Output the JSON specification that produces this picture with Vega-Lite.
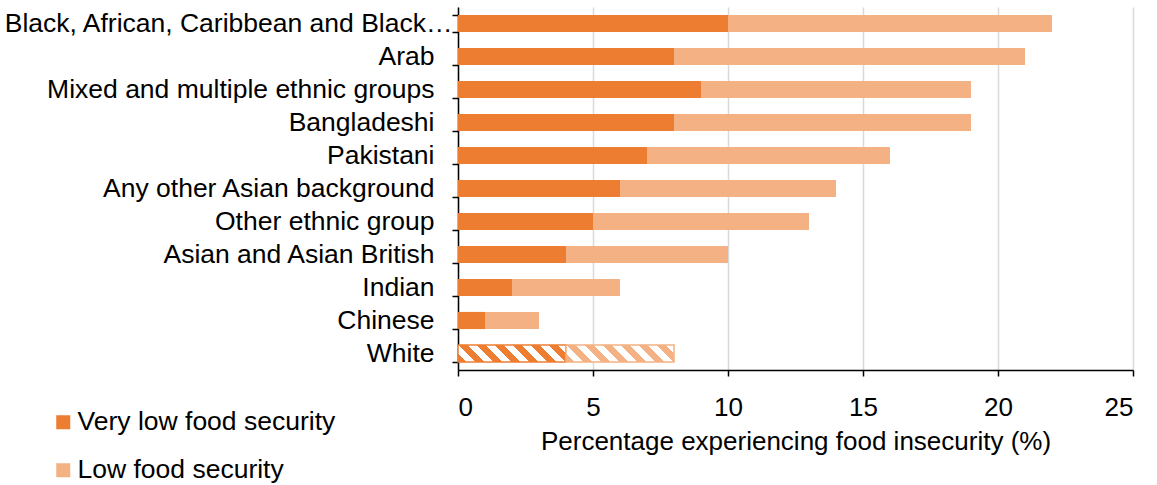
{
  "$schema": "https://vega.github.io/schema/vega-lite/v6.json",
  "width": 675,
  "height": 363,
  "autosize": "none",
  "padding": {"left": 458, "top": 7, "right": 24, "bottom": 115},
  "background": "white",
  "config": {
    "font": "Liberation Sans",
    "view": {"stroke": null},
    "axis": {"labelFont": "Liberation Sans", "titleFont": "Liberation Sans", "labelColor": "#000", "titleColor": "#000"}
  },
  "data": {
    "values": [
      {"group": "Black, African, Caribbean and Black British", "type": "Very low food security", "value": 10},
      {"group": "Black, African, Caribbean and Black British", "type": "Low food security", "value": 12},
      {"group": "Arab", "type": "Very low food security", "value": 8},
      {"group": "Arab", "type": "Low food security", "value": 13},
      {"group": "Mixed and multiple ethnic groups", "type": "Very low food security", "value": 9},
      {"group": "Mixed and multiple ethnic groups", "type": "Low food security", "value": 10},
      {"group": "Bangladeshi", "type": "Very low food security", "value": 8},
      {"group": "Bangladeshi", "type": "Low food security", "value": 11},
      {"group": "Pakistani", "type": "Very low food security", "value": 7},
      {"group": "Pakistani", "type": "Low food security", "value": 9},
      {"group": "Any other Asian background", "type": "Very low food security", "value": 6},
      {"group": "Any other Asian background", "type": "Low food security", "value": 8},
      {"group": "Other ethnic group", "type": "Very low food security", "value": 5},
      {"group": "Other ethnic group", "type": "Low food security", "value": 8},
      {"group": "Asian and Asian British", "type": "Very low food security", "value": 4},
      {"group": "Asian and Asian British", "type": "Low food security", "value": 6},
      {"group": "Indian", "type": "Very low food security", "value": 2},
      {"group": "Indian", "type": "Low food security", "value": 4},
      {"group": "Chinese", "type": "Very low food security", "value": 1},
      {"group": "Chinese", "type": "Low food security", "value": 2},
      {"group": "White", "type": "Very low food security", "value": 4},
      {"group": "White", "type": "Low food security", "value": 4}
    ]
  },
  "transform": [
    {"calculate": "datum.type === 'Very low food security' ? 0 : 1", "as": "stackOrder"}
  ],
  "encoding": {
    "y": {
      "field": "group",
      "type": "nominal",
      "sort": null,
      "scale": {"paddingInner": 0.48, "paddingOuter": 0.24},
      "axis": {
        "title": null,
        "tickBand": "extent",
        "labelFontSize": 26.5,
        "labelLimit": 450,
        "labelPadding": {
          "condition": {"test": "datum.value === 'Black, African, Caribbean and Black British'", "value": 0},
          "value": 18
        },
        "tickSize": 6,
        "tickColor": "#000",
        "tickWidth": 1.5,
        "domainColor": "#000",
        "domainWidth": 1.5,
        "grid": false
      }
    },
    "x": {
      "field": "value",
      "type": "quantitative",
      "stack": "zero",
      "scale": {"domain": [0, 25], "nice": false},
      "axis": {
        "title": "Percentage experiencing food insecurity (%)",
        "values": [0, 5, 10, 15, 20, 25],
        "labelFontSize": 26,
        "titleFontSize": 26,
        "titleFontWeight": "normal",
        "labelPadding": 18,
        "titlePadding": 8,
        "tickSize": 6,
        "tickColor": "#000",
        "tickWidth": 1.5,
        "domainColor": "#000",
        "domainWidth": 1.5,
        "grid": true,
        "gridColor": "#d9d9d9",
        "gridWidth": 1.5
      }
    },
    "order": {"field": "stackOrder", "type": "quantitative"}
  },
  "layer": [
    {
      "transform": [{"filter": "datum.group !== 'White'"}],
      "mark": {"type": "bar"},
      "encoding": {
        "color": {
          "field": "type",
          "type": "nominal",
          "scale": {"domain": ["Very low food security", "Low food security"], "range": ["#ED7D31", "#F4B183"]},
          "legend": {
            "title": null,
            "orient": "none",
            "legendX": -408,
            "legendY": 402,
            "symbolType": "square",
            "symbolSize": 196,
            "symbolStrokeWidth": 0,
            "labelFontSize": 26.5,
            "labelFont": "Liberation Sans",
            "labelColor": "#000",
            "labelLimit": 400,
            "rowPadding": 21,
            "labelOffset": 1
          }
        }
      }
    },
    {
      "transform": [{"filter": "datum.group === 'White'"}],
      "mark": {"type": "bar", "strokeWidth": 1.5},
      "encoding": {
        "fill": {
          "condition": {
            "test": "datum.type === 'Very low food security'",
            "value": {
              "gradient": "linear", "x1": 0, "y1": 1, "x2": 1.13, "y2": 0.82,
              "stops": [
                {"offset": 0, "color": "#ED7D31"}, {"offset": 0.0714, "color": "#ED7D31"},
                {"offset": 0.0714, "color": "#ffffff"}, {"offset": 0.1428, "color": "#ffffff"},
                {"offset": 0.1428, "color": "#ED7D31"}, {"offset": 0.2143, "color": "#ED7D31"},
                {"offset": 0.2143, "color": "#ffffff"}, {"offset": 0.2857, "color": "#ffffff"},
                {"offset": 0.2857, "color": "#ED7D31"}, {"offset": 0.3571, "color": "#ED7D31"},
                {"offset": 0.3571, "color": "#ffffff"}, {"offset": 0.4286, "color": "#ffffff"},
                {"offset": 0.4286, "color": "#ED7D31"}, {"offset": 0.5, "color": "#ED7D31"},
                {"offset": 0.5, "color": "#ffffff"}, {"offset": 0.5714, "color": "#ffffff"},
                {"offset": 0.5714, "color": "#ED7D31"}, {"offset": 0.6428, "color": "#ED7D31"},
                {"offset": 0.6428, "color": "#ffffff"}, {"offset": 0.7143, "color": "#ffffff"},
                {"offset": 0.7143, "color": "#ED7D31"}, {"offset": 0.7857, "color": "#ED7D31"},
                {"offset": 0.7857, "color": "#ffffff"}, {"offset": 0.8571, "color": "#ffffff"},
                {"offset": 0.8571, "color": "#ED7D31"}, {"offset": 0.9286, "color": "#ED7D31"},
                {"offset": 0.9286, "color": "#ffffff"}, {"offset": 1, "color": "#ffffff"}
              ]
            }
          },
          "value": {
            "gradient": "linear", "x1": 0, "y1": 1, "x2": 1.13, "y2": 0.82,
            "stops": [
              {"offset": 0, "color": "#F4B183"}, {"offset": 0.0714, "color": "#F4B183"},
              {"offset": 0.0714, "color": "#ffffff"}, {"offset": 0.1428, "color": "#ffffff"},
              {"offset": 0.1428, "color": "#F4B183"}, {"offset": 0.2143, "color": "#F4B183"},
              {"offset": 0.2143, "color": "#ffffff"}, {"offset": 0.2857, "color": "#ffffff"},
              {"offset": 0.2857, "color": "#F4B183"}, {"offset": 0.3571, "color": "#F4B183"},
              {"offset": 0.3571, "color": "#ffffff"}, {"offset": 0.4286, "color": "#ffffff"},
              {"offset": 0.4286, "color": "#F4B183"}, {"offset": 0.5, "color": "#F4B183"},
              {"offset": 0.5, "color": "#ffffff"}, {"offset": 0.5714, "color": "#ffffff"},
              {"offset": 0.5714, "color": "#F4B183"}, {"offset": 0.6428, "color": "#F4B183"},
              {"offset": 0.6428, "color": "#ffffff"}, {"offset": 0.7143, "color": "#ffffff"},
              {"offset": 0.7143, "color": "#F4B183"}, {"offset": 0.7857, "color": "#F4B183"},
              {"offset": 0.7857, "color": "#ffffff"}, {"offset": 0.8571, "color": "#ffffff"},
              {"offset": 0.8571, "color": "#F4B183"}, {"offset": 0.9286, "color": "#F4B183"},
              {"offset": 0.9286, "color": "#ffffff"}, {"offset": 1, "color": "#ffffff"}
            ]
          }
        },
        "stroke": {
          "condition": {"test": "datum.type === 'Very low food security'", "value": "#ED7D31"},
          "value": "#F4B183"
        }
      }
    }
  ]
}
